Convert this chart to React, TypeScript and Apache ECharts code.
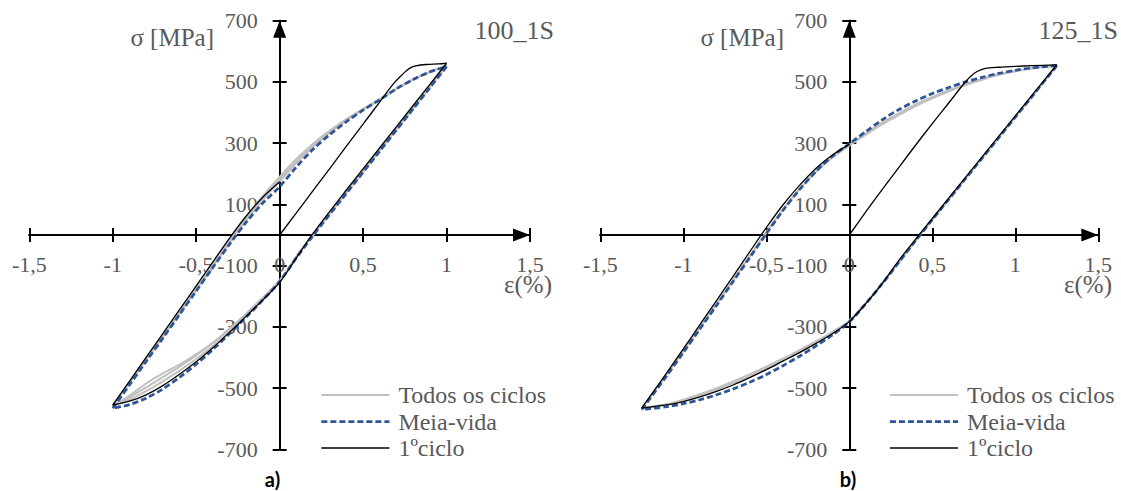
import React, { useEffect, useRef } from "react";
import * as echarts from "echarts";

type Pt = [number, number];

// ---------- axis ranges ----------
const X_MIN = -1.5;
const X_MAX = 1.5;
const X_STEP = 0.5;
const Y_MIN = -700;
const Y_MAX = 700;
const Y_STEP = 200;

const LEGEND_NAMES = ["Todos os ciclos", "Meia-vida", "1ºciclo"];
const PANEL_TITLES = ["100_1S", "125_1S"];
const PANEL_TAGS = ["a)", "b)"];
const Y_NAME = "σ [MPa]";
const X_NAME = "ε(%)";

// ---------- panel a: 100_1S (strain amplitude 1,0 %) ----------
const A_FIRST_LOAD: Pt[] = [
  [0, 0], [0.1, 72], [0.2, 145], [0.3, 217], [0.4, 290], [0.5, 362], [0.6, 435],
  [0.68, 493], [0.72, 516], [0.75, 532], [0.78, 545], [0.82, 553], [0.88, 557], [0.95, 559], [1.0, 561],
];
const A_FIRST_UNLOAD: Pt[] = [
  [1.0, 561], [0.9, 492], [0.8, 423], [0.6, 285], [0.4, 147], [0.2, 5], [0.1, -75], [0, -155],
  [-0.1, -212], [-0.2, -265], [-0.3, -318], [-0.4, -368], [-0.5, -414], [-0.6, -455],
  [-0.7, -492], [-0.8, -522], [-0.9, -543], [-1.0, -556],
];
const A_FIRST_RELOAD: Pt[] = [
  [-1.0, -556], [-0.9, -478], [-0.8, -400], [-0.7, -322], [-0.6, -244], [-0.5, -166],
  [-0.4, -88], [-0.3, -10], [-0.2, 62], [-0.1, 124], [0, 174],
];
const A_HALF_UP: Pt[] = [
  [-1.0, -566], [-0.9, -490], [-0.8, -413], [-0.7, -337], [-0.6, -260], [-0.5, -183],
  [-0.4, -106], [-0.3, -30], [-0.2, 42], [-0.1, 105], [0, 158], [0.1, 222], [0.2, 280],
  [0.3, 328], [0.4, 370], [0.5, 408], [0.6, 442], [0.7, 478], [0.8, 508], [0.9, 533], [1.0, 550],
];
const A_HALF_DOWN: Pt[] = [
  [1.0, 550], [0.9, 481], [0.8, 412], [0.6, 274], [0.4, 136], [0.2, -2], [0.1, -75], [0, -152],
  [-0.1, -212], [-0.2, -268], [-0.3, -322], [-0.4, -374], [-0.5, -422], [-0.6, -465],
  [-0.7, -503], [-0.8, -533], [-0.9, -554], [-1.0, -566],
];
const A_ALL1_UP: Pt[] = [
  [-1.0, -556], [-0.9, -482], [-0.8, -406], [-0.7, -330], [-0.6, -254], [-0.5, -177],
  [-0.4, -100], [-0.3, -22], [-0.2, 52], [-0.1, 122], [0, 182], [0.1, 240], [0.2, 292],
  [0.3, 337], [0.4, 376], [0.5, 410], [0.6, 442], [0.7, 477], [0.8, 507], [0.9, 532], [1.0, 552],
];
const A_ALL1_DOWN: Pt[] = [
  [1.0, 552], [0.9, 483], [0.8, 414], [0.6, 276], [0.4, 138], [0.2, 0], [0.1, -72], [0, -150],
  [-0.1, -208], [-0.2, -262], [-0.3, -314], [-0.4, -362], [-0.5, -405], [-0.6, -443],
  [-0.7, -478], [-0.8, -510], [-0.9, -538], [-1.0, -556],
];
const A_ALL2_UP: Pt[] = [
  [-1.0, -556], [-0.9, -480], [-0.8, -403], [-0.7, -326], [-0.6, -250], [-0.5, -172],
  [-0.4, -94], [-0.3, -16], [-0.2, 58], [-0.1, 128], [0, 190], [0.1, 248], [0.2, 298],
  [0.3, 341], [0.4, 379], [0.5, 412], [0.6, 444], [0.7, 478], [0.8, 508], [0.9, 532], [1.0, 553],
];
const A_ALL2_DOWN: Pt[] = [
  [1.0, 553], [0.9, 484], [0.8, 415], [0.6, 277], [0.4, 139], [0.2, 1], [0.1, -70], [0, -148],
  [-0.1, -204], [-0.2, -256], [-0.3, -306], [-0.4, -352], [-0.5, -393], [-0.6, -430],
  [-0.7, -464], [-0.8, -498], [-0.9, -530], [-1.0, -556],
];
const A_ALL3_UP: Pt[] = [
  [-1.0, -558], [-0.9, -484], [-0.8, -409], [-0.7, -333], [-0.6, -257], [-0.5, -180],
  [-0.4, -103], [-0.3, -26], [-0.2, 48], [-0.1, 116], [0, 175], [0.1, 235], [0.2, 288],
  [0.3, 334], [0.4, 374], [0.5, 409], [0.6, 442], [0.7, 477], [0.8, 508], [0.9, 533], [1.0, 553],
];
const A_ALL3_DOWN: Pt[] = [
  [1.0, 553], [0.9, 484], [0.8, 415], [0.6, 277], [0.4, 139], [0.2, 1], [0.1, -71], [0, -149],
  [-0.1, -206], [-0.2, -258], [-0.3, -308], [-0.4, -352], [-0.5, -390], [-0.6, -423],
  [-0.7, -452], [-0.8, -485], [-0.9, -525], [-1.0, -558],
];

// ---------- panel b: 125_1S (strain amplitude 1,25 %) ----------
const B_FIRST_LOAD: Pt[] = [
  [0, 0], [0.1, 76], [0.2, 150], [0.3, 222], [0.4, 294], [0.5, 364], [0.6, 432],
  [0.69, 494], [0.73, 518], [0.77, 534], [0.82, 544], [0.9, 548], [1.0, 551], [1.1, 553], [1.25, 556],
];
const B_FIRST_UNLOAD: Pt[] = [
  [1.25, 556], [1.1, 456], [0.9, 322], [0.7, 188], [0.5, 54], [0.42, 0], [0.3, -82],
  [0.2, -157], [0.1, -224], [0, -283], [-0.1, -322], [-0.2, -354], [-0.3, -384],
  [-0.4, -412], [-0.5, -440], [-0.6, -466], [-0.7, -490], [-0.8, -511], [-0.9, -529],
  [-1.0, -544], [-1.1, -555], [-1.25, -565],
];
const B_FIRST_RELOAD: Pt[] = [
  [-1.25, -565], [-1.1, -450], [-1.0, -372], [-0.9, -293], [-0.8, -214], [-0.7, -135],
  [-0.6, -55], [-0.5, 24], [-0.4, 98], [-0.3, 162], [-0.2, 218], [-0.1, 262], [0, 296],
];
const B_HALF_UP: Pt[] = [
  [-1.25, -570], [-1.1, -460], [-1.0, -384], [-0.9, -307], [-0.8, -230], [-0.7, -152],
  [-0.6, -74], [-0.5, 4], [-0.4, 80], [-0.3, 148], [-0.2, 208], [-0.1, 258], [0, 298],
  [0.1, 338], [0.2, 377], [0.3, 410], [0.4, 438], [0.5, 462], [0.6, 482], [0.7, 500],
  [0.8, 515], [0.9, 528], [1.0, 538], [1.1, 546], [1.25, 553],
];
const B_HALF_DOWN: Pt[] = [
  [1.25, 553], [1.1, 452], [0.9, 318], [0.7, 184], [0.5, 50], [0.4, -18], [0.3, -88],
  [0.2, -158], [0.1, -224], [0, -284], [-0.1, -326], [-0.2, -362], [-0.3, -396],
  [-0.4, -427], [-0.5, -456], [-0.6, -481], [-0.7, -503], [-0.8, -522], [-0.9, -538],
  [-1.0, -551], [-1.1, -561], [-1.25, -570],
];
const B_ALL1_UP: Pt[] = [
  [-1.25, -566], [-1.1, -456], [-1.0, -380], [-0.9, -303], [-0.8, -226], [-0.7, -148],
  [-0.6, -70], [-0.5, 8], [-0.4, 83], [-0.3, 150], [-0.2, 208], [-0.1, 256], [0, 294],
  [0.1, 332], [0.2, 368], [0.3, 398], [0.4, 427], [0.5, 451], [0.6, 473], [0.7, 493],
  [0.8, 510], [0.9, 525], [1.0, 536], [1.1, 545], [1.25, 553],
];
const B_ALL1_DOWN: Pt[] = [
  [1.25, 553], [1.1, 452], [0.9, 318], [0.7, 184], [0.5, 50], [0.4, -18], [0.3, -88],
  [0.2, -157], [0.1, -222], [0, -281], [-0.1, -318], [-0.2, -350], [-0.3, -380],
  [-0.4, -409], [-0.5, -436], [-0.6, -461], [-0.7, -484], [-0.8, -505], [-0.9, -524],
  [-1.0, -541], [-1.1, -554], [-1.25, -566],
];
const B_ALL2_UP: Pt[] = [
  [-1.25, -566], [-1.1, -455], [-1.0, -379], [-0.9, -302], [-0.8, -225], [-0.7, -147],
  [-0.6, -69], [-0.5, 9], [-0.4, 84], [-0.3, 150], [-0.2, 207], [-0.1, 254], [0, 292],
  [0.1, 328], [0.2, 362], [0.3, 392], [0.4, 421], [0.5, 446], [0.6, 469], [0.7, 490],
  [0.8, 507], [0.9, 523], [1.0, 535], [1.1, 545], [1.25, 553],
];
const B_ALL2_DOWN: Pt[] = [
  [1.25, 553], [1.1, 452], [0.9, 318], [0.7, 184], [0.5, 50], [0.4, -18], [0.3, -88],
  [0.2, -157], [0.1, -221], [0, -280], [-0.1, -316], [-0.2, -347], [-0.3, -376],
  [-0.4, -404], [-0.5, -430], [-0.6, -455], [-0.7, -478], [-0.8, -500], [-0.9, -520],
  [-1.0, -538], [-1.1, -553], [-1.25, -566],
];

// ---------- styling ----------
const SERIF = "Liberation Serif";
const SANS_BOLD = "Lato";
const TEXT_GREY = "#595959";
const GREY = "#C0C0C0";
const BLUE = "#2E5597";
const BLACK = "#000000";

const fmtComma = (v: number) => String(v).replace(".", ",");

// Plot boxes of the two panels; the axes cross at the centre of each box
const GRIDS = [
  { left: 29.3, top: 20.7, width: 500.7, height: 428.6 },
  { left: 600.3, top: 20.7, width: 498, height: 428.6 },
];

const axisLineStyle = { color: BLACK, width: 2 };

// x axes drawn through sigma = 0: one carries labels and downward ticks,
// the twin carries upward ticks so that every tick crosses the line.
function makeXAxes(gridIndex: number) {
  const g = GRIDS[gridIndex];
  const base = {
    type: "value",
    gridIndex,
    min: X_MIN,
    max: X_MAX,
    interval: X_STEP,
    position: "bottom",
    offset: -g.height / 2,
    splitLine: { show: false },
  };
  return [
    {
      ...base,
      axisLine: {
        show: true,
        onZero: false,
        lineStyle: axisLineStyle,
        symbol: ["none", "triangle"],
        symbolSize: [13, 17],
        symbolOffset: [0, -8.5],
      },
      axisTick: { show: true, inside: false, length: 7, lineStyle: axisLineStyle },
      axisLabel: {
        show: true,
        margin: 18,
        color: TEXT_GREY,
        fontFamily: SERIF,
        fontSize: 22,
        showMinLabel: true,
        showMaxLabel: true,
        hideOverlap: false,
        formatter: (v: number) => fmtComma(v),
      },
    },
    {
      ...base,
      axisLine: { show: true, onZero: false, lineStyle: axisLineStyle },
      axisTick: { show: true, inside: true, length: 7, lineStyle: axisLineStyle },
      axisLabel: { show: false },
    },
  ];
}

// y axes drawn through epsilon = 0
function makeYAxes(gridIndex: number) {
  const g = GRIDS[gridIndex];
  const base = {
    type: "value",
    gridIndex,
    min: Y_MIN,
    max: Y_MAX,
    interval: Y_STEP,
    position: "left",
    offset: -g.width / 2,
    splitLine: { show: false },
  };
  return [
    {
      ...base,
      axisLine: {
        show: true,
        onZero: false,
        lineStyle: axisLineStyle,
        symbol: ["none", "triangle"],
        symbolSize: [13, 17],
        symbolOffset: [0, -8.5],
      },
      axisTick: { show: true, inside: false, length: 7, lineStyle: axisLineStyle },
      axisLabel: {
        show: true,
        margin: 22,
        color: TEXT_GREY,
        fontFamily: SERIF,
        fontSize: 22,
        showMinLabel: true,
        showMaxLabel: true,
        hideOverlap: false,
      },
    },
    {
      ...base,
      axisLine: { show: true, onZero: false, lineStyle: axisLineStyle },
      axisTick: { show: true, inside: true, length: 7, lineStyle: axisLineStyle },
      axisLabel: { show: false },
    },
  ];
}

function curve(name: string, data: Pt[], axisIndex: number, lineStyle: any) {
  return {
    type: "line",
    name,
    data,
    xAxisIndex: axisIndex,
    yAxisIndex: axisIndex,
    symbol: "none",
    showSymbol: false,
    smooth: 0.3,
    clip: false,
    silent: true,
    lineStyle,
  };
}

const greyStyle = { color: GREY, width: 2 };
const halfStyle = { color: BLUE, width: 2.75, type: [6, 3] };
const firstStyle = { color: BLACK, width: 1.3 };

function panelSeries(axisIndex: number, grey: Pt[][], half: Pt[][], first: Pt[][]) {
  return [
    ...grey.map((d) => curve(LEGEND_NAMES[0], d, axisIndex, greyStyle)),
    ...half.map((d) => curve(LEGEND_NAMES[1], d, axisIndex, halfStyle)),
    ...first.map((d) => curve(LEGEND_NAMES[2], d, axisIndex, firstStyle)),
  ];
}

function makeLegend(left: number) {
  return {
    orient: "vertical",
    left,
    top: 382,
    itemWidth: 68,
    itemHeight: 14,
    itemGap: 0.5,
    padding: 0,
    selectedMode: false,
    data: LEGEND_NAMES,
    itemStyle: { opacity: 0 },
    lineStyle: { width: "inherit" },
    textStyle: {
      fontFamily: SERIF,
      fontSize: 24,
      lineHeight: 26,
      color: TEXT_GREY,
      padding: [0, 0, 0, 4],
    },
  };
}

function label(text: string, x: number, y: number, size: number, align: string, extra: any = {}) {
  return {
    type: "text",
    x,
    y,
    silent: true,
    style: {
      text,
      fontFamily: SERIF,
      fontSize: size,
      fill: TEXT_GREY,
      align,
      verticalAlign: "middle",
      ...extra,
    },
  };
}

export default function App() {
  const ref = useRef<HTMLDivElement>(null);

  useEffect(() => {
    if (!ref.current) return;
    const chart = echarts.init(ref.current, undefined, { renderer: "svg" });

    const option = {
      animation: false,
      backgroundColor: "#ffffff",
      grid: GRIDS.map((g) => ({ ...g, containLabel: false })),
      xAxis: [...makeXAxes(0), ...makeXAxes(1)],
      yAxis: [...makeYAxes(0), ...makeYAxes(1)],
      legend: [makeLegend(320), makeLegend(888.6)],
      series: [
        ...panelSeries(
          0,
          [A_ALL1_UP, A_ALL1_DOWN, A_ALL2_UP, A_ALL2_DOWN, A_ALL3_UP, A_ALL3_DOWN],
          [A_HALF_UP, A_HALF_DOWN],
          [A_FIRST_LOAD, A_FIRST_UNLOAD, A_FIRST_RELOAD]
        ),
        ...panelSeries(
          2,
          [B_ALL1_UP, B_ALL1_DOWN, B_ALL2_UP, B_ALL2_DOWN],
          [B_HALF_UP, B_HALF_DOWN],
          [B_FIRST_LOAD, B_FIRST_UNLOAD, B_FIRST_RELOAD]
        ),
      ],
      graphic: [
        label(Y_NAME, 214, 37, 25, "right"),
        label(Y_NAME, 784, 37, 25, "right"),
        label(PANEL_TITLES[0], 554, 30, 26, "right"),
        label(PANEL_TITLES[1], 1118, 30, 26, "right"),
        label(X_NAME, 552, 284, 25, "right"),
        label(X_NAME, 1112, 284, 25, "right"),
        label(PANEL_TAGS[0], 272.5, 479, 20, "center", {
          fill: BLACK,
          fontWeight: "bold",
          fontFamily: SANS_BOLD,
        }),
        label(PANEL_TAGS[1], 848, 479, 20, "center", {
          fill: BLACK,
          fontWeight: "bold",
          fontFamily: SANS_BOLD,
        }),
      ],
    };

    chart.setOption(option as any);
    return () => chart.dispose();
  }, []);

  return (
    <div
      ref={ref}
      style={{ position: "fixed", left: 0, top: 0, width: 1121, height: 491, background: "#fff" }}
    />
  );
}
